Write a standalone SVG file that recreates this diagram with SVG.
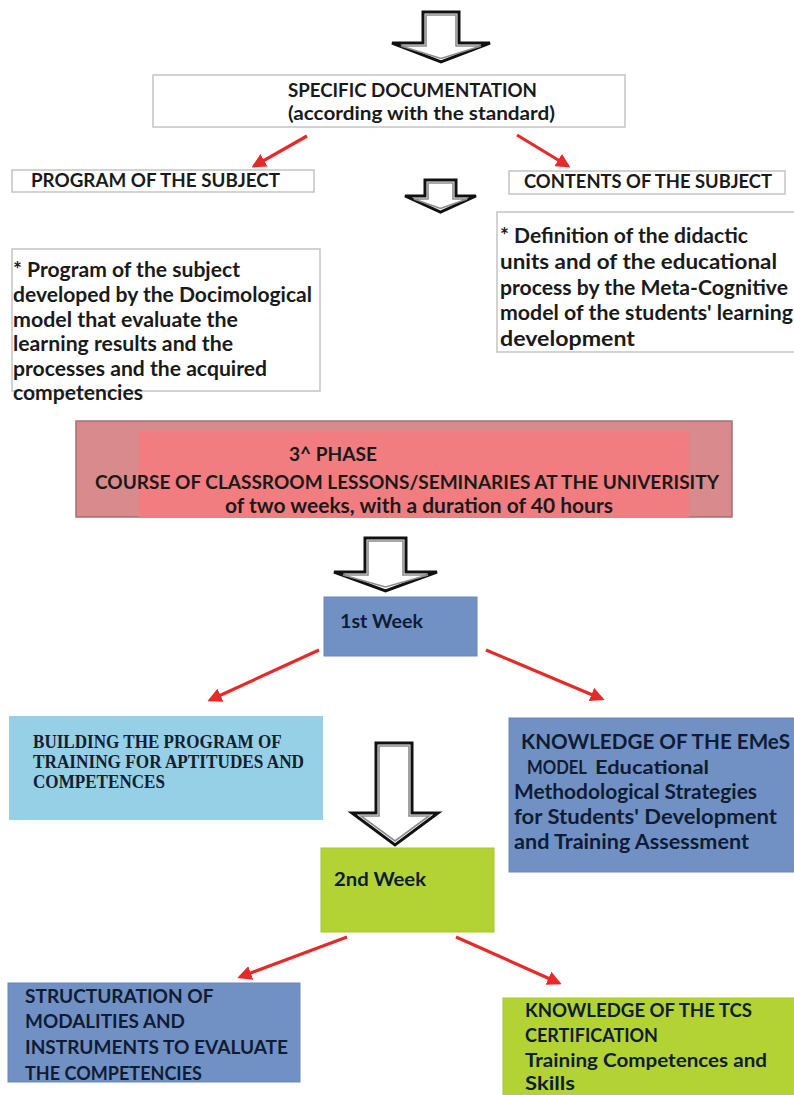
<svg xmlns="http://www.w3.org/2000/svg" width="794" height="1095" viewBox="0 0 794 1095">
<defs>
<marker id="rh" viewBox="0 0 10 10" refX="8" refY="5" markerWidth="4.5" markerHeight="4.5" orient="auto" markerUnits="strokeWidth">
<path d="M0,0 L10,5 L0,10 Z" fill="#e52a2a"/>
</marker>
<style>
.cal{font-family:Lato,"Open Sans","Liberation Sans",sans-serif;font-weight:bold;fill:#1a1a1a}
.ser{font-family:"Liberation Serif","DejaVu Serif",serif;font-weight:bold;fill:#15202e}
.navy{fill:#0f1c33}
.wbox{fill:#ffffff;stroke:#c4c4c4;stroke-width:1.5}
.blue{fill:#7191c5;stroke:#6a88b8;stroke-width:1}
.green{fill:#b3d234;stroke:#a8c530;stroke-width:1}
.red{stroke:#e52a2a;stroke-width:3.2;fill:none;marker-end:url(#rh)}
.bo{fill:#ffffff;stroke:#111111;stroke-width:3;stroke-linejoin:miter}
.bi{fill:#ffffff;stroke:#8c8c8c;stroke-width:1.6}
</style>
</defs>
<rect width="794" height="1095" fill="#ffffff"/>

<g id="connectors">
<g id="arrow-top"><path class="bo" d="M423,12 H459 V43 H490 L441,62 L392,43 H423 Z"/><path class="bi" d="M426,15 H456 V46 H481 L441,58.5 L401,46 H426 Z"/></g>
<g id="arrow-small"><path class="bo" d="M425,180 H456 V196 H476 L440.5,212 L405,196 H425 Z"/><path class="bi" d="M428,183 H453 V199 H467 L440.5,208.5 L414,199 H428 Z"/></g>
<g id="arrow-phase"><path class="bo" d="M365,538 H406 V572 H437 L385.5,591 L334,572 H365 Z"/><path class="bi" d="M368,541 H403 V575 H428 L385.5,587 L343,575 H368 Z"/></g>
<g id="arrow-week"><path class="bo" d="M376,743 H412 V813 H438 L395,845 L352,813 H376 Z"/><path class="bi" d="M379,746 H409 V816 H429 L395,841 L361,816 H379 Z"/></g>
<line class="red" x1="307" y1="136" x2="254" y2="166"/>
<line class="red" x1="517" y1="135" x2="568" y2="166"/>
<line class="red" x1="319" y1="650" x2="210" y2="700"/>
<line class="red" x1="486" y1="650" x2="602" y2="699"/>
<line class="red" x1="347" y1="937" x2="240" y2="977"/>
<line class="red" x1="456" y1="937" x2="559" y2="983"/>
</g>

<g id="specific-documentation">
<rect class="wbox" x="153" y="75" width="472" height="52"/>
<text class="cal" font-size="19" x="288" y="97" textLength="249" lengthAdjust="spacingAndGlyphs">SPECIFIC DOCUMENTATION</text>
<text class="cal" font-size="19" x="288" y="120" textLength="267" lengthAdjust="spacingAndGlyphs">(according with the standard)</text>
</g>

<g id="program-subject">
<rect class="wbox" x="12" y="170" width="302" height="22"/>
<text class="cal" font-size="18" x="31" y="187" textLength="249" lengthAdjust="spacingAndGlyphs">PROGRAM OF THE SUBJECT</text>
</g>

<g id="contents-subject">
<rect class="wbox" x="509" y="171" width="276" height="23"/>
<text class="cal" font-size="18" x="524" y="188" textLength="248" lengthAdjust="spacingAndGlyphs">CONTENTS OF THE SUBJECT</text>
</g>

<g id="program-detail">
<rect class="wbox" x="12" y="249" width="308" height="142"/>
<text class="cal" font-size="20">
<tspan x="13" y="277" textLength="227" lengthAdjust="spacingAndGlyphs">* Program of the subject</tspan>
<tspan x="13" y="302" textLength="299" lengthAdjust="spacingAndGlyphs">developed by the Docimological</tspan>
<tspan x="13" y="327" textLength="225" lengthAdjust="spacingAndGlyphs">model that evaluate the</tspan>
<tspan x="13" y="351" textLength="220" lengthAdjust="spacingAndGlyphs">learning results and the</tspan>
<tspan x="13" y="376" textLength="254" lengthAdjust="spacingAndGlyphs">processes and the acquired</tspan>
<tspan x="13" y="400" textLength="130" lengthAdjust="spacingAndGlyphs">competencies</tspan>
</text>
</g>

<g id="contents-detail">
<rect class="wbox" x="497" y="212" width="300" height="140"/>
<text class="cal" font-size="20">
<tspan x="500" y="243" textLength="248" lengthAdjust="spacingAndGlyphs">* Definition of the didactic</tspan>
<tspan x="500" y="269" textLength="277" lengthAdjust="spacingAndGlyphs">units and of the educational</tspan>
<tspan x="500" y="295" textLength="288" lengthAdjust="spacingAndGlyphs">process by the Meta-Cognitive</tspan>
<tspan x="500" y="320" textLength="293" lengthAdjust="spacingAndGlyphs">model of the students' learning</tspan>
<tspan x="500" y="346" textLength="135" lengthAdjust="spacingAndGlyphs">development</tspan>
</text>
</g>

<g id="phase3">
<rect x="76" y="421" width="656" height="96" fill="#d98a8c" stroke="#a56e70" stroke-width="1.5"/>
<rect x="139" y="431" width="550" height="86" fill="#f27d81"/>
<text class="cal" font-size="19" x="289" y="461" textLength="88" lengthAdjust="spacingAndGlyphs">3^ PHASE</text>
<text class="cal" font-size="19" x="95" y="489" textLength="624" lengthAdjust="spacingAndGlyphs">COURSE OF CLASSROOM LESSONS/SEMINARIES AT THE UNIVERISITY</text>
<text class="cal" font-size="20" x="225" y="513" textLength="388" lengthAdjust="spacingAndGlyphs">of two weeks, with a duration of 40 hours</text>
</g>

<g id="week1">
<rect class="blue" x="324" y="597" width="153" height="59"/>
<text class="cal navy" font-size="19" x="340" y="628" textLength="83" lengthAdjust="spacingAndGlyphs">1st Week</text>
</g>

<g id="building-program">
<rect x="9" y="716" width="314" height="104" fill="#95d0e7"/>
<text class="ser" font-size="18">
<tspan x="33" y="748" textLength="248" lengthAdjust="spacingAndGlyphs">BUILDING THE PROGRAM OF</tspan>
<tspan x="33" y="768" textLength="271" lengthAdjust="spacingAndGlyphs">TRAINING FOR APTITUDES AND</tspan>
<tspan x="33" y="788" textLength="132" lengthAdjust="spacingAndGlyphs">COMPETENCES</tspan>
</text>
</g>

<g id="emes-model">
<rect class="blue" x="509" y="718" width="290" height="154"/>
<text class="cal navy" font-size="20" x="521" y="749" textLength="269" lengthAdjust="spacingAndGlyphs">KNOWLEDGE OF THE EMeS</text>
<text class="cal navy" font-size="19" x="527" y="774" textLength="60" lengthAdjust="spacingAndGlyphs">MODEL</text>
<text class="cal navy" font-size="18" x="595" y="774" textLength="114" lengthAdjust="spacingAndGlyphs">Educational</text>
<text class="cal navy" font-size="20">
<tspan x="514" y="799" textLength="243" lengthAdjust="spacingAndGlyphs">Methodological Strategies</tspan>
<tspan x="514" y="824" textLength="263" lengthAdjust="spacingAndGlyphs">for Students' Development</tspan>
<tspan x="514" y="849" textLength="235" lengthAdjust="spacingAndGlyphs">and Training Assessment</tspan>
</text>
</g>

<g id="week2">
<rect class="green" x="321" y="848" width="173" height="84"/>
<text class="cal navy" font-size="19" x="334" y="886" textLength="92" lengthAdjust="spacingAndGlyphs">2nd Week</text>
</g>

<g id="structuration">
<rect class="blue" x="8" y="983" width="292" height="99"/>
<text class="cal navy" font-size="19">
<tspan x="25" y="1003" textLength="188" lengthAdjust="spacingAndGlyphs">STRUCTURATION OF</tspan>
<tspan x="25" y="1028" textLength="160" lengthAdjust="spacingAndGlyphs">MODALITIES AND</tspan>
<tspan x="25" y="1054" textLength="263" lengthAdjust="spacingAndGlyphs">INSTRUMENTS TO EVALUATE</tspan>
<tspan x="25" y="1080" textLength="177" lengthAdjust="spacingAndGlyphs">THE COMPETENCIES</tspan>
</text>
</g>

<g id="tcs-certification">
<rect class="green" x="503" y="998" width="295" height="100"/>
<text class="cal navy" font-size="19">
<tspan x="525" y="1017" textLength="227" lengthAdjust="spacingAndGlyphs">KNOWLEDGE OF THE TCS</tspan>
<tspan x="525" y="1042" textLength="133" lengthAdjust="spacingAndGlyphs">CERTIFICATION</tspan>
<tspan x="525" y="1067" textLength="242" lengthAdjust="spacingAndGlyphs">Training Competences and</tspan>
<tspan x="525" y="1090" textLength="50" lengthAdjust="spacingAndGlyphs">Skills</tspan>
</text>
</g>
</svg>
